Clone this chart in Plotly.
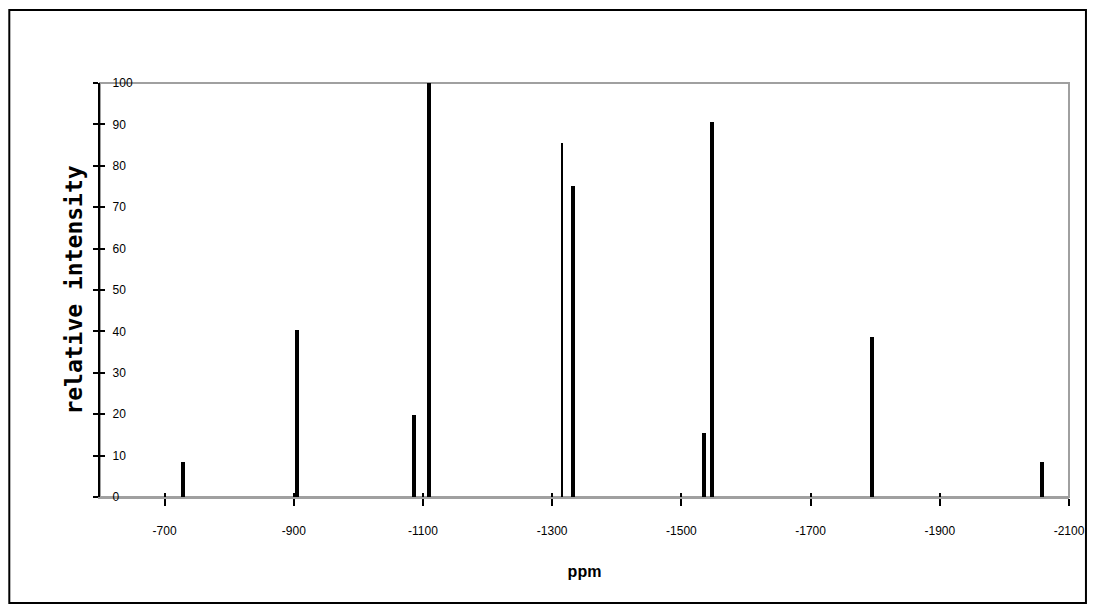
import plotly.graph_objects as go

# Data
ppm = [-728, -905, -1086, -1109, -1315, -1332, -1535, -1548, -1795, -2058]
intensity = [8.5, 40.3, 19.8, 100, 85.5, 75.1, 15.5, 90.6, 38.6, 8.5]
x_tick_vals = [-700, -900, -1100, -1300, -1500, -1700, -1900, -2100]
y_tick_vals = [0, 10, 20, 30, 40, 50, 60, 70, 80, 90, 100]

# Styling (bar widths in ppm units)
bar_widths = [6, 6, 6, 6, 3, 6, 6, 6, 6, 6]

X_RANGE = [-600, -2100]
Y_RANGE = [0, 100]
TICKFONT = dict(family="Arial", size=12, color="black")

fig = go.Figure()
fig.add_trace(go.Bar(x=ppm, y=intensity, width=bar_widths,
                     marker=dict(color="black", line=dict(width=0)),
                     showlegend=False, hoverinfo="x+y"))
# invisible trace to anchor the overlay axes (used for crossing tick marks)
fig.add_trace(go.Scatter(x=[X_RANGE[0]], y=[Y_RANGE[0]], xaxis="x2", yaxis="y2",
                         mode="markers", marker=dict(opacity=0), showlegend=False,
                         hoverinfo="skip"))

fig.update_layout(
    width=1089, height=604,
    margin=dict(l=92, r=24, t=75, b=115),
    paper_bgcolor="white", plot_bgcolor="white",
    bargap=0,
    xaxis=dict(range=X_RANGE, tickvals=x_tick_vals,
               ticktext=[str(v) for v in x_tick_vals],
               ticks="outside", ticklen=7, tickwidth=2, tickcolor="black",
               showline=True, linecolor="#a0a0a0", linewidth=2,
               showgrid=False, zeroline=False, tickfont=TICKFONT,
               ticklabelstandoff=15,
               title=dict(text="<b>ppm</b>", font=dict(family="Arial", size=16, color="black"),
                          standoff=28)),
    yaxis=dict(range=Y_RANGE, tickvals=y_tick_vals,
               ticks="outside", ticklen=5, tickwidth=2, tickcolor="black",
               showline=True, linecolor="black", linewidth=2,
               showgrid=False, zeroline=False, tickfont=TICKFONT,
               ticklabelposition="inside", ticklabeloverflow="allow",
               ticklabelstandoff=12,
               title=dict(text="<b>relative intensity</b>",
                          font=dict(family="DejaVu Sans Mono", size=23, color="black"),
                          standoff=24)),
    xaxis2=dict(range=X_RANGE, tickvals=x_tick_vals, overlaying="x", anchor="y2",
                ticks="inside", ticklen=4, tickwidth=2, tickcolor="black",
                showticklabels=False, showgrid=False, zeroline=False, showline=False),
    yaxis2=dict(range=Y_RANGE, tickvals=y_tick_vals, overlaying="y", anchor="x2",
                ticks="inside", ticklen=5, tickwidth=2, tickcolor="black",
                showticklabels=False, showgrid=False, zeroline=False, showline=False),
    shapes=[
        dict(type="rect", xref="paper", yref="paper", x0=0, x1=1, y0=0, y1=1,
             line=dict(color="#a0a0a0", width=2), layer="below"),
        dict(type="rect", xref="paper", yref="paper", x0=-0.0936, x1=1.0175,
             y0=-0.256, y1=1.1763, line=dict(color="black", width=2), layer="below"),
    ],
)

fig.write_html("out.html")
